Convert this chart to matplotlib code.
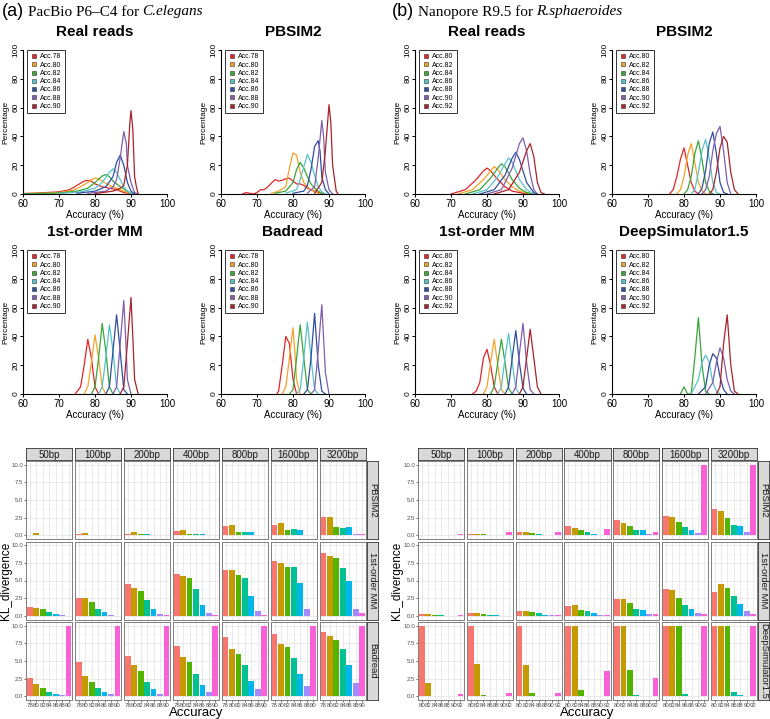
import matplotlib
matplotlib.use("Agg")
import matplotlib.pyplot as plt
from matplotlib.lines import Line2D

plt.rcParams['font.family'] = ['Liberation Sans', 'DejaVu Sans']

W, H = 770, 719

# ---------------- top density data ----------------
CURVE_COLORS = ["#E0262A", "#F5A228", "#3BA53A", "#56C3C9", "#2E4F9E", "#7E5EAD", "#A8232B"]
A_LABELS = ["Acc.78", "Acc.80", "Acc.82", "Acc.84", "Acc.86", "Acc.88", "Acc.90"]
B_LABELS = ["Acc.80", "Acc.82", "Acc.84", "Acc.86", "Acc.88", "Acc.90", "Acc.92"]

A_REAL_X = [
    [60, 65, 70, 73, 75, 77, 78, 79, 80, 82, 84, 86, 88, 90, 91],
    [60, 65, 70, 74, 76, 78, 79, 80, 81, 82, 84, 86, 88, 90, 91],
    [60, 70, 75, 78, 80, 82, 83, 84, 85, 87, 89, 90, 91],
    [70, 76, 80, 82, 84, 85, 86, 87, 88, 89, 90, 91],
    [75, 80, 83, 85, 86, 87, 88, 89, 90, 91],
    [78, 83, 85, 86, 87, 88, 88.7, 89, 90, 91, 92],
    [80, 85, 87, 88, 89, 89.7, 90, 90.5, 91, 91.5, 92],
]
A_REAL_Y = [
    [0.3, 0.8, 1.5, 3, 6, 9, 9.5, 9, 7, 5, 4, 3, 1, 0.2, 0],
    [0.2, 0.5, 1, 2.5, 5, 8, 10, 11, 10.5, 9, 6, 4, 2, 0.3, 0],
    [0.1, 0.7, 2, 4, 8, 12.5, 13.5, 12, 9, 5, 2, 0.5, 0],
    [0.3, 1.5, 4, 8, 15, 17.5, 15, 10, 5, 2, 0.5, 0],
    [0.5, 2, 5, 12, 22, 27, 20, 8, 2, 0],
    [0.5, 2, 5, 10, 25, 43.5, 35, 20, 8, 1, 0],
    [0.3, 2, 4, 6, 20, 50, 58, 45, 12, 5, 0],
]

A_PB_X = [
    [66, 67, 68, 69, 70, 71, 72, 73, 74, 75, 76, 77, 78, 79, 80, 81, 82, 83, 84, 85, 86, 87, 88, 89],
    [74, 76, 78, 79, 80, 81, 82, 83, 84, 85, 86, 87, 88],
    [75, 78, 80, 81, 82, 83, 84, 85, 86, 87, 88, 89],
    [78, 81, 82, 83, 84, 85, 86, 87, 88, 89],
    [80, 83, 84, 85, 86, 87, 87.5, 88, 89, 90],
    [84, 86, 87, 88, 88.5, 89, 90, 91],
    [86, 88, 89, 90, 90.5, 91, 92, 92.5],
]
A_PB_Y = [
    [0, 1, 0.5, 0, 1, 3, 3, 5, 7.5, 10, 9, 9.5, 10.5, 11, 9, 7, 7, 6, 4, 3, 2, 1, 0.5, 0],
    [0.5, 2, 5, 18, 28.5, 27, 15, 8, 5, 3, 1.5, 0.5, 0],
    [0.5, 2, 8, 17, 22, 18, 12, 7, 4, 2, 0.5, 0],
    [0.5, 3, 10, 19, 27.5, 22, 13, 5, 1.5, 0],
    [0.5, 2, 6, 17, 33, 37, 30, 12, 3, 0],
    [0.5, 5, 25, 51, 40, 15, 3, 0],
    [0.5, 8, 30, 62, 50, 20, 2, 0],
]

A_MM_X = [
    [74.5, 76, 77, 78, 79, 80, 81],
    [77, 78, 79, 80, 81, 82, 83],
    [79, 80, 81, 82, 83, 84, 85],
    [81, 82, 83, 84, 85, 86, 87],
    [83, 84, 85, 86, 87, 88, 89],
    [85, 86, 87, 88, 88.5, 89, 90],
    [87, 88, 89, 90, 90.5, 91, 92],
]
A_MM_Y = [
    [0, 5, 20, 38, 25, 5, 0],
    [0, 5, 22, 41, 25, 5, 0],
    [0, 5, 25, 49, 30, 5, 0],
    [0, 5, 25, 48, 30, 5, 0],
    [0, 5, 30, 55, 30, 3, 0],
    [0, 5, 35, 65, 40, 10, 0],
    [0, 5, 35, 67, 40, 10, 0],
]

A_BAD_X = [
    [75.5, 76, 77, 78, 79, 80, 81],
    [77, 78, 79, 80, 80.5, 81, 82],
    [79, 80, 81, 82, 83, 84, 85],
    [81, 82, 83, 84, 85, 86, 87],
    [83, 84, 85, 86, 87, 88, 89],
    [85, 86, 87, 88, 89, 90],
    [],
]
A_BAD_Y = [
    [0, 2, 20, 40, 35, 10, 0],
    [0, 5, 25, 46, 30, 10, 0],
    [0, 3, 25, 48, 25, 3, 0],
    [0, 3, 25, 50, 25, 3, 0],
    [0, 3, 25, 56, 20, 2, 0],
    [0, 3, 30, 62, 15, 0],
    [],
]

B_REAL_X = [
    [70, 74, 77, 79, 80, 81, 83, 85, 87, 90, 92],
    [72, 76, 79, 81, 82, 83, 85, 87, 89, 92],
    [74, 78, 81, 83, 84, 85, 87, 89, 91, 93],
    [76, 80, 83, 85, 86, 87, 89, 91, 93],
    [78, 82, 85, 87, 88, 89, 91, 93, 94],
    [80, 84, 87, 89, 90, 91, 92, 93, 94],
    [82, 86, 89, 91, 92, 93, 94, 95, 96],
]
B_REAL_Y = [
    [0, 3, 10, 16, 18, 16, 10, 5, 2, 0.5, 0],
    [0, 3, 10, 16, 19, 17, 10, 5, 2, 0],
    [0, 3, 11, 18, 21, 19, 10, 4, 1, 0],
    [0, 3, 12, 21, 25, 22, 10, 3, 0],
    [0, 3, 13, 25, 29, 24, 8, 1, 0],
    [0, 3, 18, 35, 39, 30, 14, 3, 0],
    [0, 3, 15, 30, 35, 26, 8, 1, 0],
]

B_PB_X = [
    [76, 77, 78, 79, 80, 81, 82, 83, 84],
    [78, 79, 80, 81, 82, 83, 84, 85, 86],
    [80, 81, 82, 83, 84, 85, 86, 87, 88],
    [82, 83, 84, 85, 86, 87, 88, 89, 90],
    [84, 85, 86, 87, 88, 89, 90, 91, 92],
    [85, 86, 87, 88, 89, 90, 91, 92, 93],
    [87, 88, 89, 90, 91, 92, 93, 94, 95],
]
B_PB_Y = [
    [0, 3, 12, 24, 32, 20, 8, 2, 0],
    [0, 3, 12, 27, 35, 22, 8, 2, 0],
    [0, 3, 12, 28, 37, 24, 8, 2, 0],
    [0, 3, 15, 30, 38, 25, 8, 1, 0],
    [0, 4, 16, 35, 43, 28, 8, 1, 0],
    [0, 3, 12, 30, 42, 47, 30, 8, 0],
    [0, 3, 15, 32, 40, 36, 15, 3, 0],
]

B_MM_X = [
    [76, 77, 78, 79, 80, 81, 82, 83],
    [79, 80, 81, 82, 83, 84, 85],
    [81, 82, 83, 84, 85, 86, 87],
    [83, 84, 85, 86, 87, 88, 89],
    [85, 86, 87, 88, 89, 90, 91],
    [87, 88, 89, 90, 91, 92, 93],
    [89, 90, 91, 92, 93, 94, 95],
]
B_MM_Y = [
    [0, 2, 8, 25, 31, 20, 5, 0],
    [0, 5, 22, 38, 20, 3, 0],
    [0, 5, 22, 38, 22, 4, 0],
    [0, 5, 25, 42, 22, 4, 0],
    [0, 5, 25, 44, 22, 4, 0],
    [0, 5, 28, 49, 22, 3, 0],
    [0, 5, 25, 45, 25, 5, 0],
]

B_DS_X = [
    [],
    [],
    [79, 80, 81, 82, 83, 84, 85, 86, 87],
    [82, 84, 85, 86, 87, 88, 89, 90],
    [84, 86, 87, 88, 89, 90, 91, 92],
    [86, 88, 89, 90, 91, 92, 93, 94],
    [89, 90, 91, 92, 93, 94, 95],
]
B_DS_Y = [
    [],
    [],
    [0, 5, 0, 0, 25, 53, 20, 2, 0],
    [0, 10, 22, 27, 22, 8, 2, 0],
    [0, 5, 20, 28, 25, 12, 3, 0],
    [0, 8, 22, 32, 25, 10, 2, 0],
    [0, 5, 35, 55, 20, 2, 0],
]

# ---------------- bottom KL data ----------------
BAR_COLORS = ["#F8766D", "#C49A00", "#53B400", "#00C094", "#00B6EB", "#A58AFF", "#FB61D7"]
SIZES = ["50bp", "100bp", "200bp", "400bp", "800bp", "1600bp", "3200bp"]
A_TICKS = ["78", "80", "82", "84", "86", "88", "90"]
B_TICKS = ["80", "82", "84", "86", "88", "90", "92"]
A_ROWS = ["PBSIM2", "1st-order MM", "Badread"]
B_ROWS = ["PBSIM2", "1st-order MM", "DeepSimulator1.5"]

KL_A_PBSIM2 = [
    [0.1, 0.3, 0.1, 0.05, 0.05, 0.0, 0.05],
    [0.15, 0.4, 0.1, 0.1, 0.05, 0.0, 0.05],
    [0.25, 0.55, 0.2, 0.15, 0.1, 0.0, 0.05],
    [0.65, 0.8, 0.25, 0.25, 0.25, 0.0, 0.05],
    [1.35, 1.5, 0.45, 0.55, 0.5, 0.05, 0.1],
    [1.45, 1.8, 0.8, 0.95, 0.75, 0.1, 0.1],
    [2.6, 2.55, 1.2, 1.1, 1.25, 0.25, 0.2],
]
KL_A_MM = [
    [1.25, 1.1, 0.95, 0.5, 0.3, 0.1, 0.05],
    [2.6, 2.5, 1.95, 0.95, 0.6, 0.2, 0.05],
    [4.45, 4.0, 3.55, 2.3, 1.05, 0.3, 0.15],
    [5.9, 5.6, 5.4, 3.85, 1.6, 0.45, 0.1],
    [6.45, 6.5, 5.75, 5.4, 2.8, 0.65, 0.1],
    [7.75, 7.5, 6.85, 6.95, 4.65, 1.05, 0.05],
    [8.9, 8.5, 8.15, 6.8, 4.95, 1.05, 0.35],
]
KL_A_BADREAD = [
    [2.65, 1.75, 1.15, 0.65, 0.4, 0.2, 10],
    [4.9, 2.85, 2.0, 1.2, 0.65, 0.3, 10],
    [5.7, 4.45, 3.6, 2.05, 1.0, 0.4, 10],
    [7.1, 5.6, 4.9, 3.15, 1.6, 0.65, 10],
    [8.4, 6.65, 5.95, 4.4, 2.2, 1.1, 10],
    [8.75, 7.35, 6.95, 5.45, 3.2, 1.5, 10],
    [9.05, 8.5, 8.0, 6.65, 4.4, 1.9, 10],
]
KL_B_PBSIM2 = [
    [0.1, 0.1, 0.08, 0.05, 0.05, 0.02, 0.2],
    [0.2, 0.2, 0.15, 0.1, 0.05, 0.02, 0.45],
    [0.55, 0.45, 0.4, 0.2, 0.1, 0.05, 0.45],
    [1.35, 1.05, 0.8, 0.5, 0.25, 0.1, 0.85],
    [2.2, 1.8, 1.35, 0.8, 0.7, 0.2, 0.45],
    [2.8, 2.65, 1.9, 1.15, 0.8, 0.35, 10],
    [3.8, 3.4, 2.45, 1.5, 1.4, 0.55, 10],
]
KL_B_MM = [
    [0.25, 0.25, 0.15, 0.1, 0.05, 0.05, 0.1],
    [0.4, 0.4, 0.25, 0.15, 0.1, 0.05, 0.05],
    [0.7, 0.7, 0.5, 0.4, 0.2, 0.1, 0.1],
    [1.35, 1.55, 0.9, 0.65, 0.4, 0.2, 0.2],
    [2.4, 2.4, 1.8, 0.95, 0.8, 0.3, 0.3],
    [3.8, 3.65, 2.5, 1.5, 1.05, 0.4, 0.25],
    [3.4, 4.45, 3.95, 2.75, 1.65, 0.7, 0.25],
]
KL_B_DS = [
    [10, 1.9, 0.1, 0.1, 0.1, 0.05, 0.3],
    [10, 4.6, 0.25, 0.1, 0.05, 0.05, 0.5],
    [10, 4.45, 0.45, 0.05, 0.05, 0.05, 0.45],
    [10, 10, 0.85, 0.1, 0.05, 0.05, 3.6],
    [10, 10, 3.8, 0.2, 0.1, 0.05, 2.6],
    [10, 10, 10, 0.3, 0.05, 0.05, 10],
    [10, 10, 10, 0.6, 0.2, 0.1, 10],
]

fig = plt.figure(figsize=(W / 100, H / 100), dpi=100)


def px_axes(x0, y0, x1, y1):
    return fig.add_axes([x0 / W, 1 - y1 / H, (x1 - x0) / W, (y1 - y0) / H])


def density_panel(x0, y0, title, xs, ys, labels):
    ax = px_axes(x0, y0, x0 + 144, y0 + 144)
    for cx, cy, col in zip(xs, ys, CURVE_COLORS):
        if len(cx):
            ax.plot(cx, cy, color=col, lw=0.9)
    ax.set_xlim(60, 100)
    ax.set_ylim(0, 100)
    for s in ("top", "right"):
        ax.spines[s].set_visible(False)
    ax.spines["left"].set_linewidth(0.8)
    ax.spines["bottom"].set_linewidth(0.8)
    ax.set_xticks([60, 70, 80, 90, 100])
    ax.set_yticks([0, 20, 40, 60, 80, 100])
    ax.tick_params(direction="out", length=2.5, width=0.7, labelsize=7, pad=1)
    ax.tick_params(axis="y", labelsize=6, pad=0.5, length=2)
    for lab in ax.get_yticklabels():
        lab.set_rotation(90)
        lab.set_va("center")
    ax.set_xlabel("Accuracy (%)", fontsize=7, labelpad=1)
    fig.text((x0 - 17) / W, 1 - (y0 + 72) / H, "Percentage", rotation=90,
             ha="center", va="center", fontsize=6)
    fig.text((x0 + 72) / W, 1 - (y0 - 18) / H, title, ha="center", va="center",
             fontsize=11, fontweight="bold")
    handles = [Line2D([], [], marker="s", linestyle="none", markersize=3.4,
                      markerfacecolor=c, markeredgecolor="#333333", markeredgewidth=0.4)
               for c in CURVE_COLORS]
    leg = ax.legend(handles, labels, loc="upper left", bbox_to_anchor=(0.025, 1.0),
                    fontsize=5, frameon=True, fancybox=False, handlelength=1.0,
                    handletextpad=0.4, labelspacing=0.18, borderpad=0.5,
                    borderaxespad=0.0)
    leg.get_frame().set_edgecolor("black")
    leg.get_frame().set_linewidth(0.7)
    return ax


density_panel(23, 50, "Real reads", A_REAL_X, A_REAL_Y, A_LABELS)
density_panel(221, 50, "PBSIM2", A_PB_X, A_PB_Y, A_LABELS)
density_panel(23, 250, "1st-order MM", A_MM_X, A_MM_Y, A_LABELS)
density_panel(221, 250, "Badread", A_BAD_X, A_BAD_Y, A_LABELS)
density_panel(415, 50, "Real reads", B_REAL_X, B_REAL_Y, B_LABELS)
density_panel(612, 50, "PBSIM2", B_PB_X, B_PB_Y, B_LABELS)
density_panel(415, 250, "1st-order MM", B_MM_X, B_MM_Y, B_LABELS)
density_panel(612, 250, "DeepSimulator1.5", B_DS_X, B_DS_Y, B_LABELS)

# panel headers
renderer = fig.canvas.get_renderer()


def header(x, tag, plain, ital):
    y = 1 - 12 / H
    t1 = fig.text(x / W, y, tag, fontsize=13, va="center", ha="left")
    bb = t1.get_window_extent(renderer)
    t2 = fig.text(bb.x1 / W + 4 / W, y, plain, fontsize=11, va="center", ha="left",
                  family=["Liberation Serif"])
    bb2 = t2.get_window_extent(renderer)
    fig.text(bb2.x1 / W + 3 / W, y, ital, fontsize=11, va="center", ha="left",
             family=["Liberation Serif"], style="italic")


header(2, "(a)", "PacBio P6\u2013C4 for", "C.elegans")
header(392, "(b)", "Nanopore R9.5 for", "R.sphaeroides")


# ---------------- bottom facets ----------------
def facet_block(xstart, xend, rows_data, row_names, ticks, ylab_x):
    top_strip = 448
    strip_h = 12
    y_top = 461
    y_bot = 700
    gap = 2.5
    rgap = 2.5
    right_strip_w = 11
    panel_area = xend - xstart
    pw = (panel_area - 6 * gap) / 7
    rh = (y_bot - y_top - 2 * rgap) / 3
    for j, size in enumerate(SIZES):
        px0 = xstart + j * (pw + gap)
        sax = px_axes(px0, top_strip, px0 + pw, top_strip + strip_h)
        sax.set_xticks([]); sax.set_yticks([])
        sax.set_facecolor("#D9D9D9")
        for s in sax.spines.values():
            s.set_color("#333333"); s.set_linewidth(0.6)
        sax.text(0.5, 0.45, size, ha="center", va="center", fontsize=7, color="#1A1A1A",
                 transform=sax.transAxes)
    for i, (data, rname) in enumerate(zip(rows_data, row_names)):
        py0 = y_top + i * (rh + rgap)
        for j in range(7):
            px0 = xstart + j * (pw + gap)
            ax = px_axes(px0, py0, px0 + pw, py0 + rh)
            ax.set_xlim(-0.6, 6.6)
            ax.set_ylim(-0.5, 10.5)
            ax.set_axisbelow(True)
            ax.set_yticks([0, 2.5, 5, 7.5, 10])
            ax.set_yticks([1.25, 3.75, 6.25, 8.75], minor=True)
            ax.set_xticks(range(7))
            ax.grid(True, which="major", color="#E6E6E6", lw=0.6)
            ax.grid(True, which="minor", axis="y", color="#F2F2F2", lw=0.4)
            ax.bar(range(7), data[j], width=0.9, color=BAR_COLORS)
            for s in ax.spines.values():
                s.set_color("#7F7F7F"); s.set_linewidth(0.7)
            ax.tick_params(which="minor", length=0)
            ax.tick_params(which="major", length=1.5, width=0.5, color="#333333",
                           labelsize=4.3, labelcolor="#4D4D4D", pad=0.6)
            if j == 0:
                ax.set_yticklabels(["0.0", "2.5", "5.0", "7.5", "10.0"])
            else:
                ax.tick_params(axis="y", labelleft=False, length=0)
            if i == 2:
                ax.set_xticklabels(ticks, fontsize=4.4)
                ax.tick_params(axis="x", pad=0.5)
            else:
                ax.tick_params(axis="x", labelbottom=False, length=0)
        rx0 = xend + 1
        rax = px_axes(rx0, py0, rx0 + right_strip_w, py0 + rh)
        rax.set_xticks([]); rax.set_yticks([])
        rax.set_facecolor("#D9D9D9")
        for s in rax.spines.values():
            s.set_color("#333333"); s.set_linewidth(0.6)
        rax.text(0.5, 0.5, rname, ha="center", va="center", rotation=-90, fontsize=6.8,
                 color="#1A1A1A", transform=rax.transAxes)
    fig.text((xstart + xend) / 2 / W, 1 - 713 / H, "Accuracy", ha="center", va="center",
             fontsize=9.5)
    fig.text(ylab_x / W, 1 - 581 / H, "KL_divergence", ha="center", va="center",
             rotation=90, fontsize=8.5)


facet_block(26, 366, [KL_A_PBSIM2, KL_A_MM, KL_A_BADREAD], A_ROWS, A_TICKS, 6)
facet_block(418, 757, [KL_B_PBSIM2, KL_B_MM, KL_B_DS], B_ROWS, B_TICKS, 397)

fig.savefig("out.png", dpi=100)
